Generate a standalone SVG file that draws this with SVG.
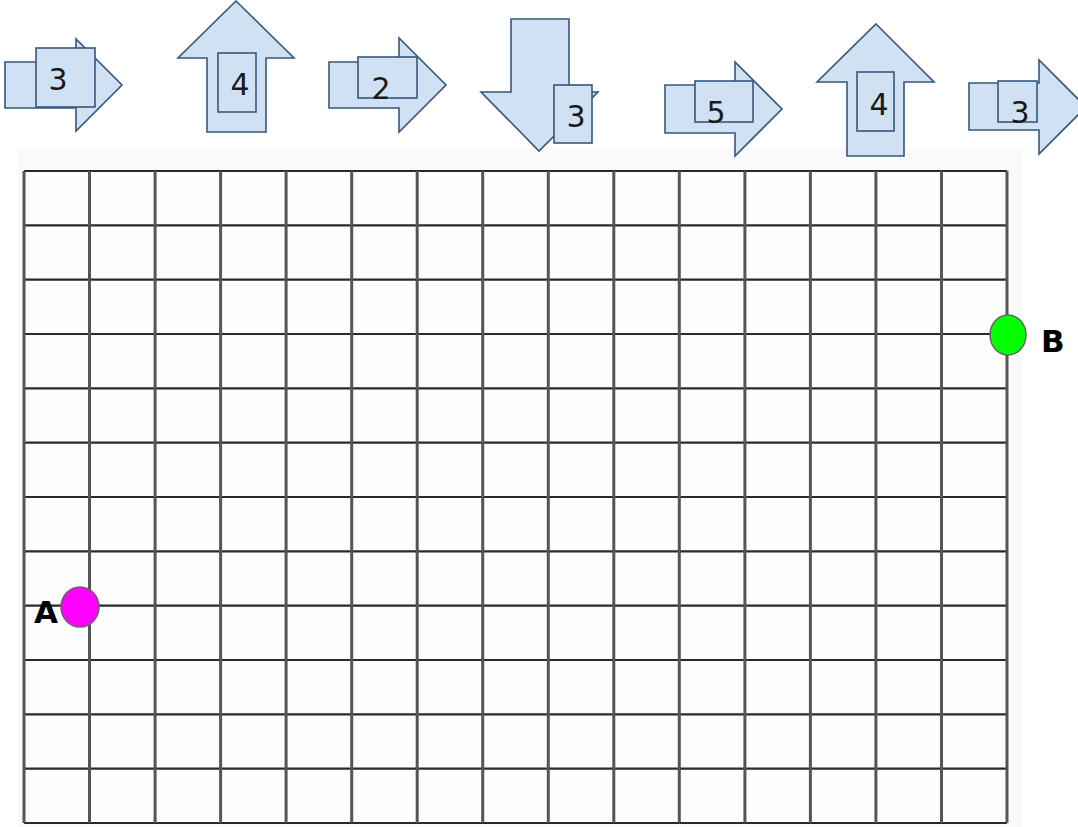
<svg xmlns="http://www.w3.org/2000/svg" width="1078" height="827" viewBox="0 0 1078 827">
<style>
.arr{fill:#cfe1f2;stroke:#36587d;stroke-width:1.6;stroke-linejoin:miter}
.box{fill:#cfe1f2;stroke:#36587d;stroke-width:1.6}
.num{font-family:"DejaVu Sans",sans-serif;font-size:30px;fill:#1a1a1a;text-anchor:middle}
.lbl{font-family:"DejaVu Sans",sans-serif;font-size:31px;font-weight:bold;fill:#000}
.v{stroke:#555;stroke-width:3}
.h{stroke:#2a2a2a;stroke-width:2.2}
</style>
<rect width="1078" height="827" fill="#fff"/>
<g id="grid">
<rect x="18" y="148" width="1004" height="679" fill="#fafafa"/>
<rect x="24" y="171" width="983" height="652" fill="#fdfdfd"/>
<g class="h">
<line x1="24" y1="171" x2="1007" y2="171"/>
<line x1="24" y1="225.3" x2="1007" y2="225.3"/>
<line x1="24" y1="279.7" x2="1007" y2="279.7"/>
<line x1="24" y1="334" x2="1007" y2="334"/>
<line x1="24" y1="388.3" x2="1007" y2="388.3"/>
<line x1="24" y1="442.7" x2="1007" y2="442.7"/>
<line x1="24" y1="497" x2="1007" y2="497"/>
<line x1="24" y1="551.3" x2="1007" y2="551.3"/>
<line x1="24" y1="605.7" x2="1007" y2="605.7"/>
<line x1="24" y1="660" x2="1007" y2="660"/>
<line x1="24" y1="714.3" x2="1007" y2="714.3"/>
<line x1="24" y1="768.7" x2="1007" y2="768.7"/>
<line x1="24" y1="823" x2="1007" y2="823"/>
</g>
<g class="v">
<line x1="24" y1="171" x2="24" y2="823"/>
<line x1="89.5" y1="171" x2="89.5" y2="823"/>
<line x1="155.1" y1="171" x2="155.1" y2="823"/>
<line x1="220.6" y1="171" x2="220.6" y2="823"/>
<line x1="286.1" y1="171" x2="286.1" y2="823"/>
<line x1="351.7" y1="171" x2="351.7" y2="823"/>
<line x1="417.2" y1="171" x2="417.2" y2="823"/>
<line x1="482.7" y1="171" x2="482.7" y2="823"/>
<line x1="548.3" y1="171" x2="548.3" y2="823"/>
<line x1="613.8" y1="171" x2="613.8" y2="823"/>
<line x1="679.3" y1="171" x2="679.3" y2="823"/>
<line x1="744.9" y1="171" x2="744.9" y2="823"/>
<line x1="810.4" y1="171" x2="810.4" y2="823"/>
<line x1="875.9" y1="171" x2="875.9" y2="823"/>
<line x1="941.5" y1="171" x2="941.5" y2="823"/>
<line x1="1007" y1="171" x2="1007" y2="823"/>
</g>
</g>
<g id="arrow1">
<polygon class="arr" points="5,62 76,62 76,39 122,85 76,131 76,108 5,108"/>
<rect class="box" x="36" y="48" width="59" height="59"/>
<text class="num" x="58" y="90">3</text>
</g>
<g id="arrow2">
<polygon class="arr" points="236,1 294,58 266,58 266,132 207,132 207,58 178,58"/>
<rect class="box" x="218" y="53" width="38" height="59"/>
<text class="num" x="240" y="95">4</text>
</g>
<g id="arrow3">
<polygon class="arr" points="329,62 399,62 399,38 446,85 399,132 399,108 329,108"/>
<rect class="box" x="358" y="57" width="59" height="41"/>
<text class="num" x="381" y="99">2</text>
</g>
<g id="arrow4">
<polygon class="arr" points="511,19 569,19 569,92 598,92 539,151 481,92 511,92"/>
<rect class="box" x="554" y="85" width="38" height="58"/>
<text class="num" x="576" y="127">3</text>
</g>
<g id="arrow5">
<polygon class="arr" points="665,85 735,85 735,62 782,109 735,156 735,133 665,133"/>
<rect class="box" x="695" y="81" width="58" height="41"/>
<text class="num" x="716" y="123">5</text>
</g>
<g id="arrow6">
<polygon class="arr" points="876,24 934,82 904,82 904,156 847,156 847,82 817,82"/>
<rect class="box" x="857" y="72" width="37" height="59"/>
<text class="num" x="879" y="115">4</text>
</g>
<g id="arrow7">
<polygon class="arr" points="969,83 1039,83 1039,60 1086,107 1039,154 1039,130 969,130"/>
<rect class="box" x="998" y="81" width="39" height="41"/>
<text class="num" x="1020" y="123">3</text>
</g>
<g id="pointA">
<ellipse cx="80" cy="607" rx="19" ry="20" fill="#ff00ff" stroke="#666" stroke-width="1.5"/>
<text class="lbl" x="34" y="623">A</text>
</g>
<g id="pointB">
<ellipse cx="1008" cy="335" rx="18" ry="20" fill="#00ff00" stroke="#666" stroke-width="1.5"/>
<text class="lbl" x="1041" y="352">B</text>
</g>
</svg>
